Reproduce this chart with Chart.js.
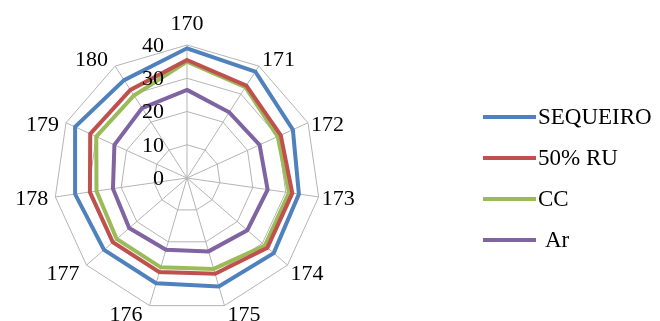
<!DOCTYPE html>
<html>
<head>
<meta charset="utf-8">
<script src="https://cdn.jsdelivr.net/npm/chart.js@4/dist/chart.umd.min.js"></script>
<style>
  html, body { margin: 0; padding: 0; background: #fff; }
  .wrap { width: 660px; height: 321px; position: relative; }
</style>
</head>
<body>
<div class="wrap"><canvas id="myRadar"></canvas></div>
<script>
let categories = ['170', '171', '172', '173', '174', '175', '176', '177', '178', '179', '180']
let sequeiro = [39, 38, 35, 34, 34.5, 34, 33, 33, 34, 37, 35]
let ru50 = [35.5, 33, 31, 32, 32, 30, 29.5, 29.5, 29.5, 32, 31.5]
let cc = [35, 32.5, 30, 31, 31, 28.5, 28, 28, 27.5, 30, 29.5]
let ar = [26.5, 23.5, 24, 24.5, 24, 23, 22.5, 23, 22.5, 24, 25]
let seriesNames = ['SEQUEIRO', '50% RU', 'CC', 'Ar']
let tickValues = [0, 10, 20, 30, 40]

let colors = ['#4F81BD', '#C0504D', '#9BBB59', '#8064A2']
let fontFamily = '"Liberation Serif", "DejaVu Serif", serif'

// tick labels sit left of the top spoke, right aligned
let tickPlugin = {
    id: 'leftTicks',
    afterDraw(chart) {
        let scale = chart.scales.r
        let ctx = chart.ctx
        ctx.save()
        ctx.font = '22px ' + fontFamily
        ctx.fillStyle = '#000'
        ctx.textAlign = 'right'
        ctx.textBaseline = 'middle'
        tickValues.forEach(v => {
            let d = scale.getDistanceFromCenterForValue(v)
            ctx.fillText(String(v), scale.xCenter - 23, scale.yCenter - d + 1)
        })
        ctx.restore()
    }
}

// category labels hugging the outer vertices, excel style
let labelPlugin = {
    id: 'vertexLabels',
    afterDraw(chart) {
        let scale = chart.scales.r
        let ctx = chart.ctx
        ctx.save()
        ctx.font = '22px ' + fontFamily
        ctx.fillStyle = '#000'
        ctx.textBaseline = 'alphabetic'
        chart.data.labels.forEach((lab, i) => {
            let p = scale.getPointPosition(i, scale.drawingArea)
            let a = p.angle + Math.PI / 2
            let s = Math.sin(a), c = Math.cos(a)
            let x = p.x, y = p.y
            if (s > 0.1) { ctx.textAlign = 'left'; x += 3 }
            else if (s < -0.1) { ctx.textAlign = 'right'; x -= 7 }
            else { ctx.textAlign = 'center' }
            if (Math.abs(s) <= 0.1) y -= 15
            else if (c > 0.6) y += 0
            else if (c < -0.6) y += 15
            else y += 8
            ctx.fillText(lab, x, y)
        })
        ctx.restore()
    }
}

// legend drawn by hand to the right
let legendPlugin = {
    id: 'sideLegend',
    afterDraw(chart) {
        let ctx = chart.ctx
        ctx.save()
        ctx.font = '23px ' + fontFamily
        ctx.textBaseline = 'middle'
        chart.data.datasets.forEach((ds, i) => {
            let y = 117 + i * 41
            ctx.strokeStyle = ds.borderColor
            ctx.lineWidth = 4
            ctx.beginPath()
            ctx.moveTo(483, y)
            ctx.lineTo(536, y)
            ctx.stroke()
            ctx.fillStyle = '#000'
            ctx.fillText(ds.label, i === 3 ? 545 : 538, y + 1)
        })
        ctx.restore()
    }
}

let series = [sequeiro, ru50, cc, ar]
let datasets = series.map((s, i) => ({
    label: seriesNames[i],
    data: s,
    borderColor: colors[i],
    backgroundColor: 'transparent',
    borderWidth: 4,
    pointRadius: 0,
    fill: false
}))

let ctx = document.getElementById('myRadar').getContext('2d')
let myRadar = new Chart(ctx, {
    type: 'radar',
    data: { labels: categories, datasets: datasets },
    options: {
        responsive: true,
        maintainAspectRatio: false,
        animation: false,
        layout: { padding: { left: 54, right: 340, top: 45, bottom: 10 } },
        plugins: {
            legend: { display: false },
            tooltip: { enabled: false }
        },
        scales: {
            r: {
                min: 0,
                max: 40,
                ticks: { stepSize: 10, display: false },
                grid: { color: '#b4b4b4', lineWidth: 1 },
                angleLines: { color: '#b4b4b4', lineWidth: 1 },
                pointLabels: { display: false }
            }
        }
    },
    plugins: [tickPlugin, labelPlugin, legendPlugin]
})
</script>
</body>
</html>
